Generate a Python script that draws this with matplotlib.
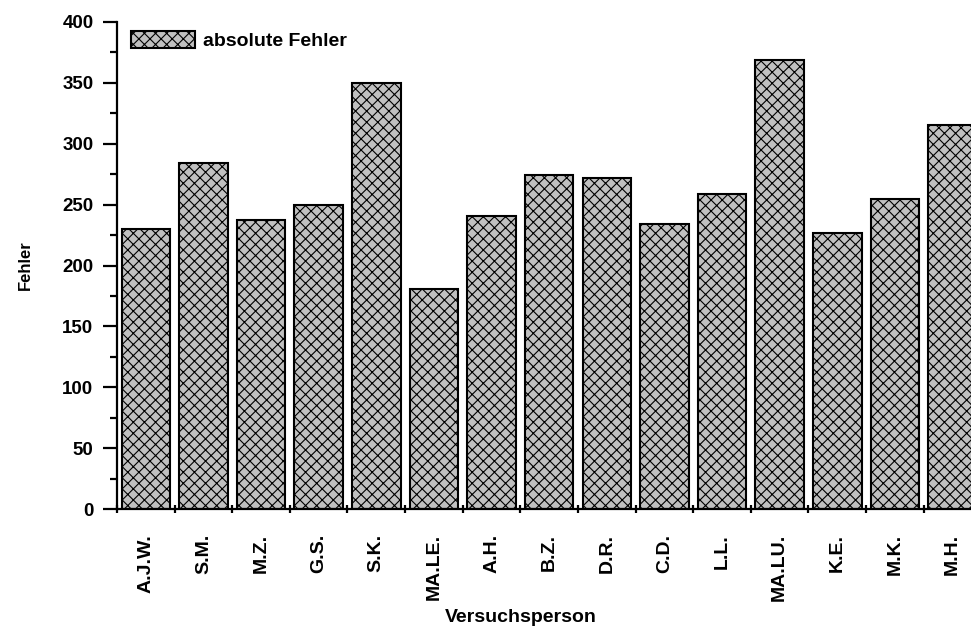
import matplotlib

matplotlib.use("Agg")
import matplotlib.pyplot as plt
import numpy as np

# --- data ---------------------------------------------------------------
persons = ["A.J.W.", "S.M.", "M.Z.", "G.S.", "S.K.", "MA.LE.", "A.H.", "B.Z.",
           "D.R.", "C.D.", "L.L.", "MA.LU.", "K.E.", "M.K.", "M.H."]
abs_errors = [230, 284, 237, 250, 350, 181, 241, 274,
              272, 234, 259, 369, 227, 255, 315]
y_ticks = [0, 50, 100, 150, 200, 250, 300, 350, 400]

plt.rcParams["font.family"] = ["Liberation Sans", "DejaVu Sans"]
plt.rcParams["font.weight"] = "bold"
plt.rcParams["hatch.linewidth"] = 0.8
plt.rcParams["hatch.color"] = "black"

fig = plt.figure(figsize=(9.71, 6.30), dpi=100)
ax = fig.add_axes([117 / 971, 121 / 630, 1 - 117 / 971, 487 / 630])

x = np.arange(len(persons)) + 0.5
ax.bar(x, abs_errors, width=0.84, color="#c0c0c0", edgecolor="black",
       linewidth=1.5, hatch="xxx", label="absolute Fehler", zorder=2)

ax.set_xlim(0, 14.82)
ax.set_ylim(0, 400)

# spines
for side in ("top", "right"):
    ax.spines[side].set_visible(False)
for side in ("left", "bottom"):
    ax.spines[side].set_linewidth(1.6)

# y axis ticks
ax.set_yticks(y_ticks)
ax.set_yticks(np.arange(25, 400, 50), minor=True)
ax.tick_params(axis="y", which="major", direction="out", length=10,
               width=1.6, pad=7, labelsize=13.5)
ax.tick_params(axis="y", which="minor", direction="out", length=5, width=1.6)

# x axis: ticks at bar boundaries, labels at bar centres
ax.set_xticks(np.arange(0, 15))
ax.set_xticklabels([])
ax.set_xticks(x, minor=True)
ax.set_xticklabels(persons, minor=True, rotation=90, fontsize=14,
                   fontweight="bold")
ax.tick_params(axis="x", which="major", direction="inout", length=6, width=1.6)
ax.tick_params(axis="x", which="minor", length=0, pad=18)

ax.set_ylabel("Fehler", fontsize=12, fontweight="bold")
ax.yaxis.set_label_coords(-0.0985, 0.5)
fig.text(521 / 971, 1 - 617 / 630, "Versuchsperson", ha="center", va="center",
         fontsize=14, fontweight="bold")

leg = ax.legend(loc="upper left", bbox_to_anchor=(131 / 971, 1 - 31 / 630),
                bbox_transform=fig.transFigure, frameon=False, borderpad=0,
                borderaxespad=0, handlelength=3.3, handleheight=0.95,
                handletextpad=0.4, prop={"size": 14, "weight": "bold"})

fig.savefig("out.png", dpi=100)
